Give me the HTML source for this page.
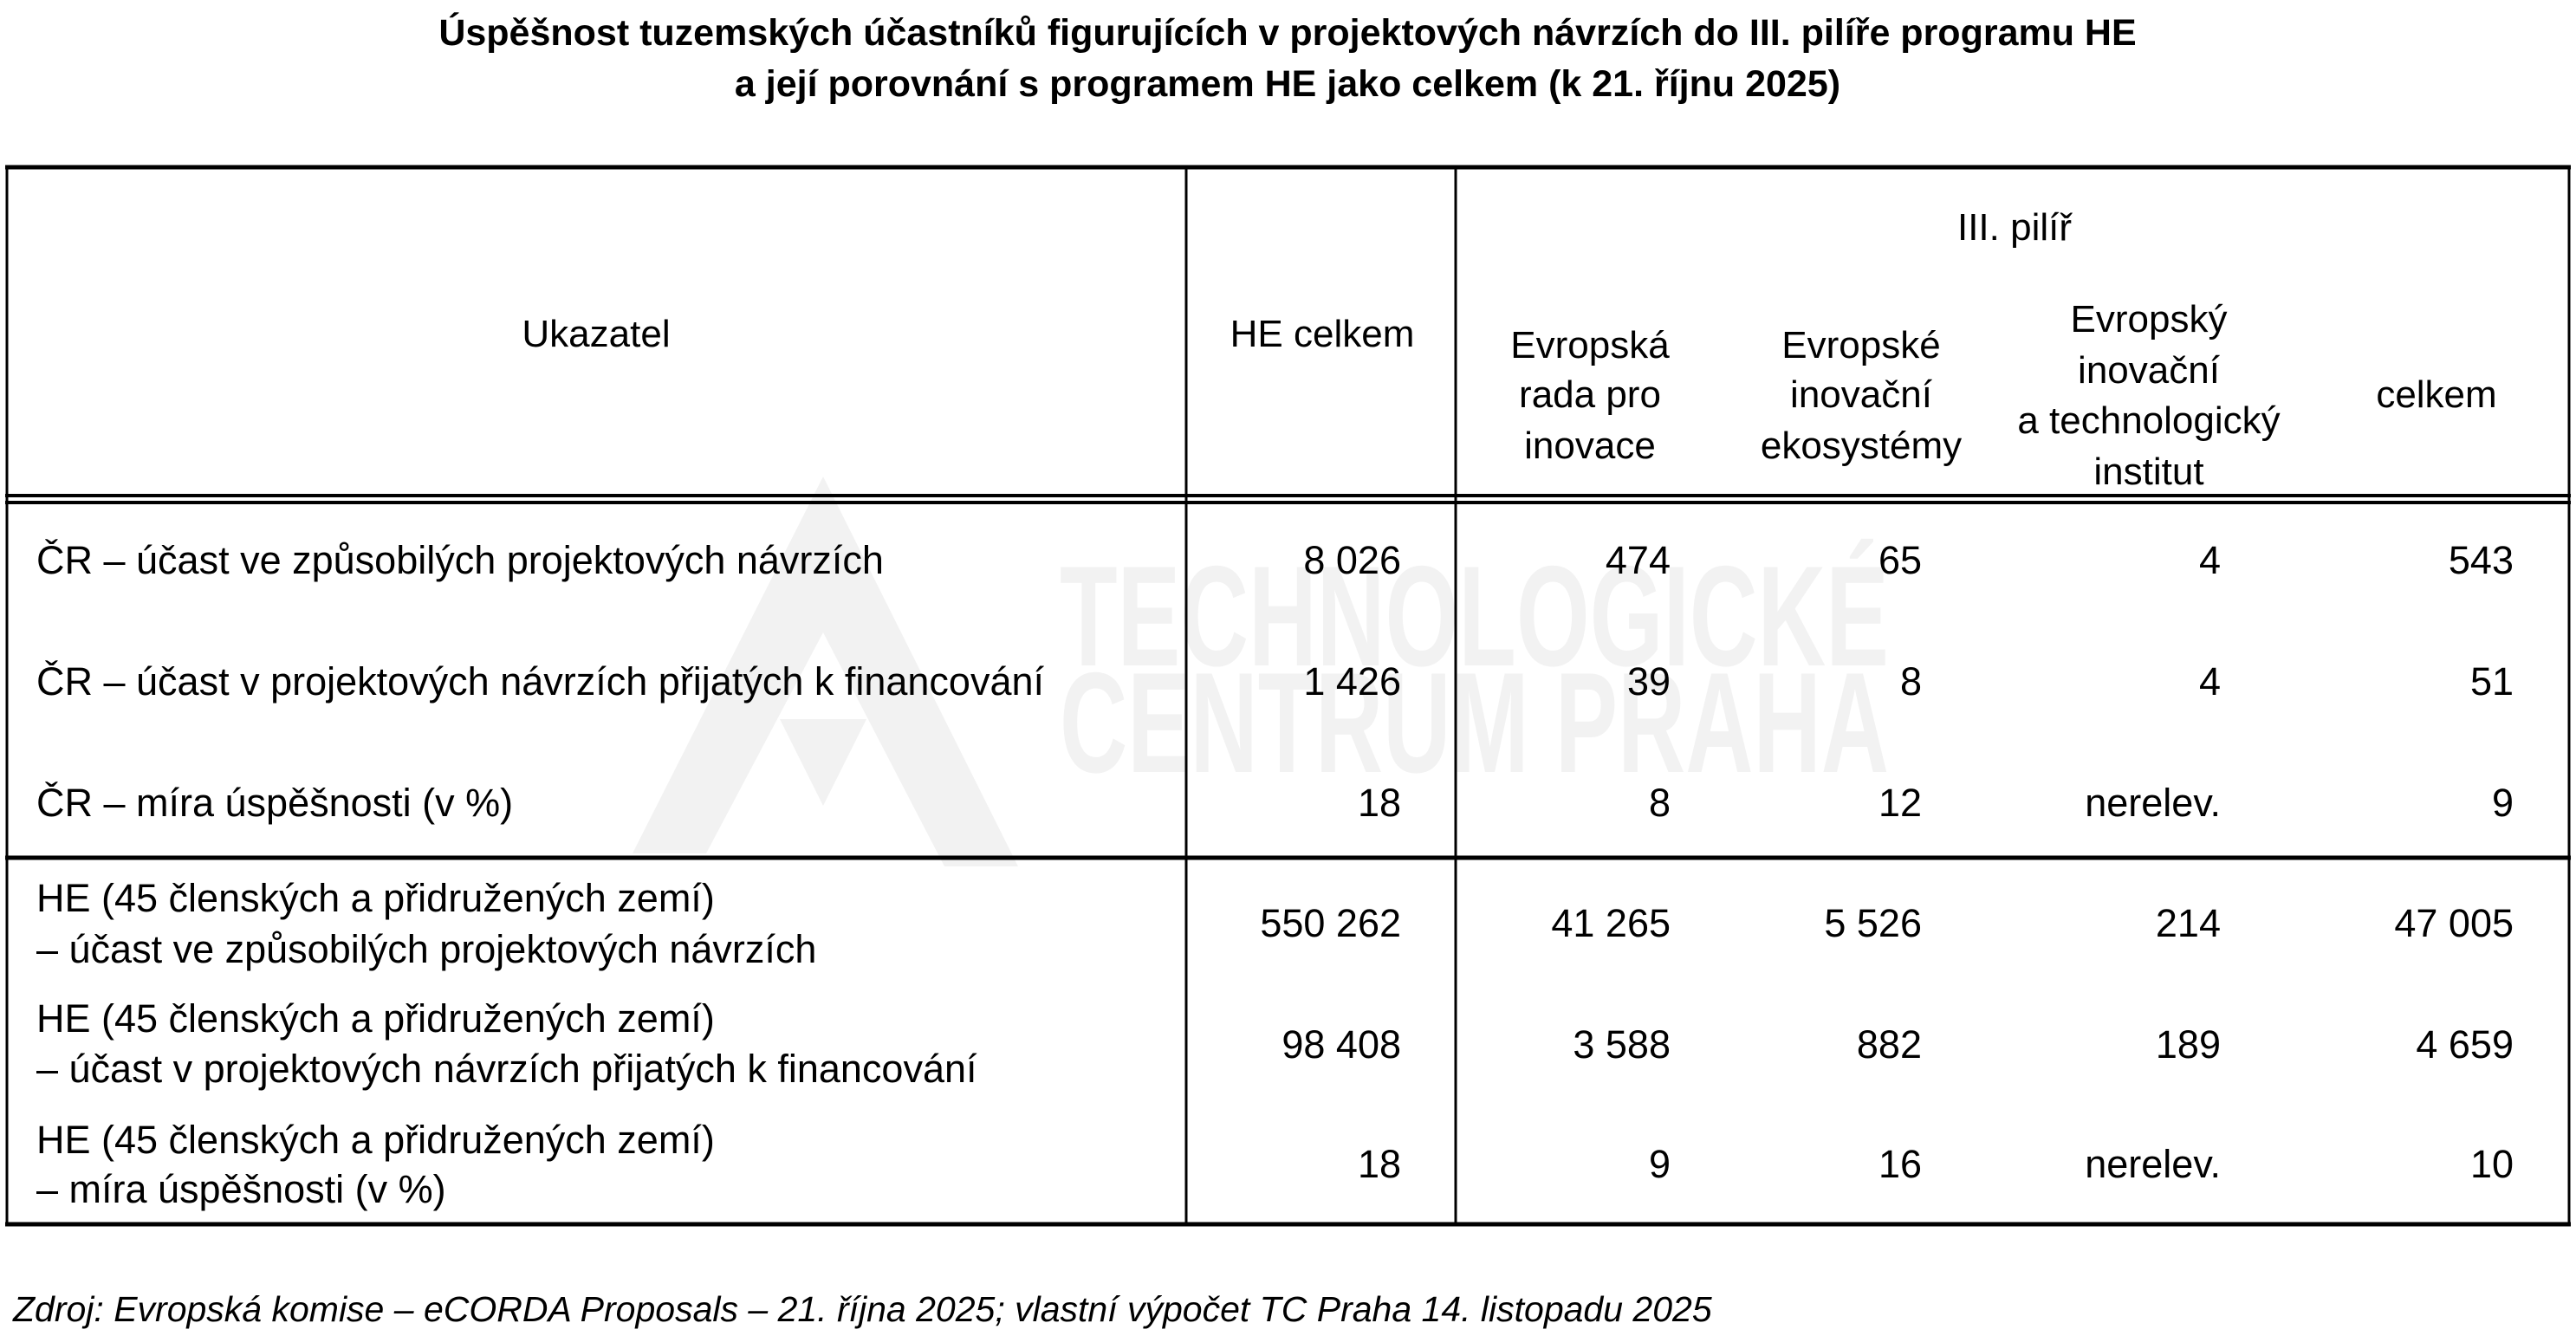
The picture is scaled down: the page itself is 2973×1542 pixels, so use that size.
<!DOCTYPE html>
<html><head><meta charset="utf-8"><style>
html,body{margin:0;padding:0;background:#fff;}
svg{display:block;}
text{font-family:"Liberation Sans",sans-serif;fill:#000;}
.b{font-size:45px;}
.h{font-size:44px;text-anchor:middle;}
.n{font-size:45px;text-anchor:end;}
</style></head><body>
<svg width="2973" height="1542" viewBox="0 0 2973 1542" xmlns="http://www.w3.org/2000/svg">
<g fill="#f2f2f2">
<polygon points="950,550 1175,1000 1090,1000 950,730 815,985 730,985"/>
<polygon points="900,830 1000,830 950,930"/>
</g>
<text x="1223" y="768" font-size="165" font-weight="bold" textLength="957" lengthAdjust="spacingAndGlyphs" style="fill:#f2f2f2">TECHNOLOGICKÉ</text>
<text x="1223" y="891" font-size="165" font-weight="bold" textLength="957" lengthAdjust="spacingAndGlyphs" style="fill:#f2f2f2">CENTRUM PRAHA</text>

<text x="1486" y="52" font-size="43" font-weight="bold" text-anchor="middle">Úspěšnost tuzemských účastníků figurujících v projektových návrzích do III. pilíře programu HE</text>
<text x="1486" y="111" font-size="43" font-weight="bold" text-anchor="middle">a její porovnání s programem HE jako celkem (k 21. říjnu 2025)</text>

<g stroke="#000" fill="none">
<line x1="6" y1="193" x2="2967" y2="193" stroke-width="5"/>
<line x1="8" y1="191" x2="8" y2="1415" stroke-width="3"/>
<line x1="2965" y1="191" x2="2965" y2="1415" stroke-width="3"/>
<line x1="1369" y1="191" x2="1369" y2="1415" stroke-width="3"/>
<line x1="1680" y1="191" x2="1680" y2="1415" stroke-width="3"/>
<line x1="6" y1="572" x2="2967" y2="572" stroke-width="4"/>
<line x1="6" y1="580" x2="2967" y2="580" stroke-width="4"/>
<line x1="6" y1="990" x2="2967" y2="990" stroke-width="5"/>
<line x1="6" y1="1413" x2="2967" y2="1413" stroke-width="5"/>
</g>

<text class="h" x="688" y="400">Ukazatel</text>
<text class="h" x="1526" y="400">HE celkem</text>
<text class="h" x="2325" y="277">III. pilíř</text>
<text class="h" x="1835" y="413">Evropská</text>
<text class="h" x="1835" y="470">rada pro</text>
<text class="h" x="1835" y="529">inovace</text>
<text class="h" x="2148" y="413">Evropské</text>
<text class="h" x="2148" y="470">inovační</text>
<text class="h" x="2148" y="529">ekosystémy</text>
<text class="h" x="2480" y="383">Evropský</text>
<text class="h" x="2480" y="442">inovační</text>
<text class="h" x="2480" y="500">a technologický</text>
<text class="h" x="2480" y="559">institut</text>
<text class="h" x="2812" y="470">celkem</text>

<text class="b" x="42" y="662">ČR – účast ve způsobilých projektových návrzích</text>
<text class="b" x="42" y="802">ČR – účast v projektových návrzích přijatých k financování</text>
<text class="b" x="42" y="942">ČR – míra úspěšnosti (v %)</text>
<text class="b" x="42" y="1052">HE (45 členských a přidružených zemí)</text>
<text class="b" x="42" y="1111">– účast ve způsobilých projektových návrzích</text>
<text class="b" x="42" y="1191">HE (45 členských a přidružených zemí)</text>
<text class="b" x="42" y="1249">– účast v projektových návrzích přijatých k financování</text>
<text class="b" x="42" y="1331">HE (45 členských a přidružených zemí)</text>
<text class="b" x="42" y="1388">– míra úspěšnosti (v %)</text>

<g>
<text class="n" x="1617" y="662">8 026</text><text class="n" x="1928" y="662">474</text><text class="n" x="2218" y="662">65</text><text class="n" x="2563" y="662">4</text><text class="n" x="2901" y="662">543</text>
<text class="n" x="1617" y="802">1 426</text><text class="n" x="1928" y="802">39</text><text class="n" x="2218" y="802">8</text><text class="n" x="2563" y="802">4</text><text class="n" x="2901" y="802">51</text>
<text class="n" x="1617" y="942">18</text><text class="n" x="1928" y="942">8</text><text class="n" x="2218" y="942">12</text><text class="n" x="2563" y="942">nerelev.</text><text class="n" x="2901" y="942">9</text>
<text class="n" x="1617" y="1081">550 262</text><text class="n" x="1928" y="1081">41 265</text><text class="n" x="2218" y="1081">5 526</text><text class="n" x="2563" y="1081">214</text><text class="n" x="2901" y="1081">47 005</text>
<text class="n" x="1617" y="1221">98 408</text><text class="n" x="1928" y="1221">3 588</text><text class="n" x="2218" y="1221">882</text><text class="n" x="2563" y="1221">189</text><text class="n" x="2901" y="1221">4 659</text>
<text class="n" x="1617" y="1359">18</text><text class="n" x="1928" y="1359">9</text><text class="n" x="2218" y="1359">16</text><text class="n" x="2563" y="1359">nerelev.</text><text class="n" x="2901" y="1359">10</text>
</g>

<text x="15" y="1525" font-size="41" font-style="italic">Zdroj: Evropská komise – eCORDA Proposals – 21. října 2025; vlastní výpočet TC Praha 14. listopadu 2025</text>
</svg>
</body></html>
